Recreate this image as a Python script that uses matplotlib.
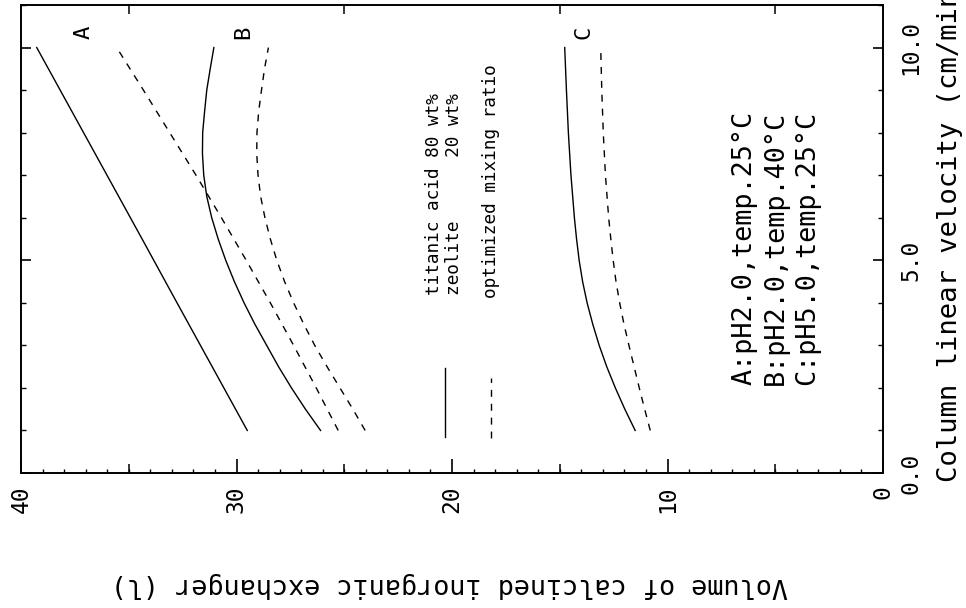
import matplotlib
matplotlib.use("Agg")
import matplotlib.pyplot as plt
from matplotlib.ticker import MultipleLocator, FixedLocator, FormatStrFormatter

plt.rcParams['font.family'] = ['DejaVu Sans Mono']

# ---- data (volume of exchanger [l] vs column linear velocity [cm/min]) ----
A_solid_vel = [1.0, 2.5, 4.0, 5.5, 7.0, 8.5, 10.0]
A_solid_vol = [29.5, 31.13, 32.76, 34.38, 36.01, 37.64, 39.27]

A_dash_vel = [1.0, 2.0, 3.0, 4.0, 5.0, 6.0, 7.0, 8.0, 9.0, 10.0]
A_dash_vol = [25.28, 26.3, 27.35, 28.43, 29.55, 30.7, 31.88, 33.1, 34.32, 35.56]

B_solid_vel = [1.0, 1.5, 2.0, 2.5, 3.0, 3.5, 4.0, 4.5, 5.0, 5.5, 6.0, 6.5, 7.0,
               7.5, 8.0, 8.5, 9.0, 9.5, 10.0]
B_solid_vol = [26.1, 26.8, 27.45, 28.05, 28.6, 29.15, 29.65, 30.1, 30.5, 30.85,
               31.15, 31.38, 31.52, 31.58, 31.57, 31.48, 31.38, 31.22, 31.05]

B_dash_vel = [1.0, 1.5, 2.0, 2.5, 3.0, 3.5, 4.0, 4.5, 5.0, 5.5, 6.0, 6.5, 7.0,
              7.5, 8.0, 8.5, 9.0, 9.5, 10.0]
B_dash_vol = [24.03, 24.6, 25.2, 25.8, 26.37, 26.88, 27.35, 27.77, 28.13, 28.43,
              28.68, 28.88, 29.0, 29.06, 29.05, 28.97, 28.84, 28.7, 28.52]

C_solid_vel = [1.0, 1.5, 2.0, 2.5, 3.0, 3.5, 4.0, 4.5, 5.0, 5.5, 6.0, 7.0, 8.0, 9.0, 10.0]
C_solid_vol = [11.5, 11.98, 12.42, 12.82, 13.17, 13.47, 13.73, 13.94, 14.1, 14.22,
               14.32, 14.48, 14.6, 14.69, 14.77]

C_dash_vel = [1.0, 1.5, 2.0, 2.5, 3.0, 3.5, 4.0, 4.5, 5.0, 5.5, 6.0, 7.0, 8.0, 9.0, 10.0]
C_dash_vol = [10.8, 11.06, 11.31, 11.55, 11.79, 12.02, 12.22, 12.39, 12.52, 12.63,
              12.73, 12.88, 12.98, 13.05, 13.1]

curve_labels = ['A', 'B', 'C']
vol_ticks = [0, 10, 20, 30, 40]
vel_ticks = [0.0, 5.0, 10.0]
legend_solid = 'titanic acid 80 wt%\nzeolite      20 wt%'
legend_dash = 'optimized mixing ratio'
conditions = 'A:pH2.0,temp.25°C\nB:pH2.0,temp.40°C\nC:pH5.0,temp.25°C'
xlabel = 'Column linear velocity (cm/min)'
ylabel = 'Volume of calcined inorganic exchanger (l)'

# ---- figure (chart drawn rotated 90 degrees counter-clockwise) ----
W, H = 966, 608
fig = plt.figure(figsize=(W / 100, H / 100), dpi=100)
ax = fig.add_axes([21 / W, 135 / H, (883 - 21) / W, (473 - 5) / H])
ax.set_xlim(40, 0)
ax.set_ylim(0, 11)

lw = 1.0
dash = (5, 5)
ax.plot(A_solid_vol, A_solid_vel, color='black', lw=lw)
ax.plot(A_dash_vol, A_dash_vel, color='black', lw=lw, dashes=dash)
ax.plot(B_solid_vol, B_solid_vel, color='black', lw=lw)
ax.plot(B_dash_vol, B_dash_vel, color='black', lw=lw, dashes=dash)
ax.plot(C_solid_vol, C_solid_vel, color='black', lw=lw)
ax.plot(C_dash_vol, C_dash_vel, color='black', lw=lw, dashes=dash)

for s in ax.spines.values():
    s.set_linewidth(1.4)

# volume axis (horizontal, bottom/top)
ax.xaxis.set_major_locator(FixedLocator(vol_ticks))
ax.xaxis.set_minor_locator(MultipleLocator(1))
ax.tick_params(axis='x', which='major', direction='in', top=True, bottom=True,
               length=10, width=1.2, labelsize=16.5, labelrotation=90, pad=9)
ax.tick_params(axis='x', which='minor', direction='in', top=True, bottom=True,
               length=3, width=1.0)
# velocity axis (vertical, left/right), labels on the right
ax.yaxis.set_major_locator(FixedLocator(vel_ticks))
ax.yaxis.set_major_formatter(FormatStrFormatter('%.1f'))
ax.yaxis.set_minor_locator(MultipleLocator(1))
ax.tick_params(axis='y', which='major', direction='in', left=True, right=True,
               labelleft=False, labelright=True, length=7, width=1.2,
               labelsize=16.5, labelrotation=90, pad=12)
ax.tick_params(axis='y', which='minor', direction='in', left=True, right=True,
               length=3.5, width=1.0)
for t in ax.get_yticklabels():
    t.set_va('center')

# medium ticks at 5, 15, 25, 35
ax2 = ax.twiny()
ax2.set_xlim(ax.get_xlim())
ax2.xaxis.set_major_locator(FixedLocator([5, 15, 25, 35]))
ax2.tick_params(axis='x', which='major', direction='in', top=True, bottom=True,
                labeltop=False, labelbottom=False, length=6.5, width=1.1)
for s in ax2.spines.values():
    s.set_visible(False)

# curve labels
label_pos_vol = [37.1, 29.7, 13.9]
for lab, v in zip(curve_labels, label_pos_vol):
    ax.text(v, 10.35, lab, rotation=90, ha='center', va='center', fontsize=16)

# legend drawn in place (rotated)
ax.plot([20.33, 20.33], [0.85, 2.47], color='black', lw=lw)
ax.plot([18.19, 18.19], [0.82, 2.24], color='black', lw=lw, dashes=dash)
ax.text(20.37, 4.19, legend_solid, rotation=90, rotation_mode='anchor',
        ha='left', va='center', fontsize=12.8, linespacing=1.15)
ax.text(18.19, 4.12, legend_dash, rotation=90, rotation_mode='anchor',
        ha='left', va='center', fontsize=12.8)

# conditions
ax.text(4.97, 2.07, conditions, rotation=90, rotation_mode='anchor',
        ha='left', va='center', fontsize=19.4, linespacing=1.26)

# axis titles
fig.text(950 / W, 1 - 482 / H, xlabel, rotation=90, rotation_mode='anchor',
         ha='left', va='center', fontsize=19.6)
fig.text(449 / W, 1 - 585 / H, ylabel, rotation=180, ha='center', va='center',
         fontsize=19.4)

fig.savefig('out.png', dpi=100)
